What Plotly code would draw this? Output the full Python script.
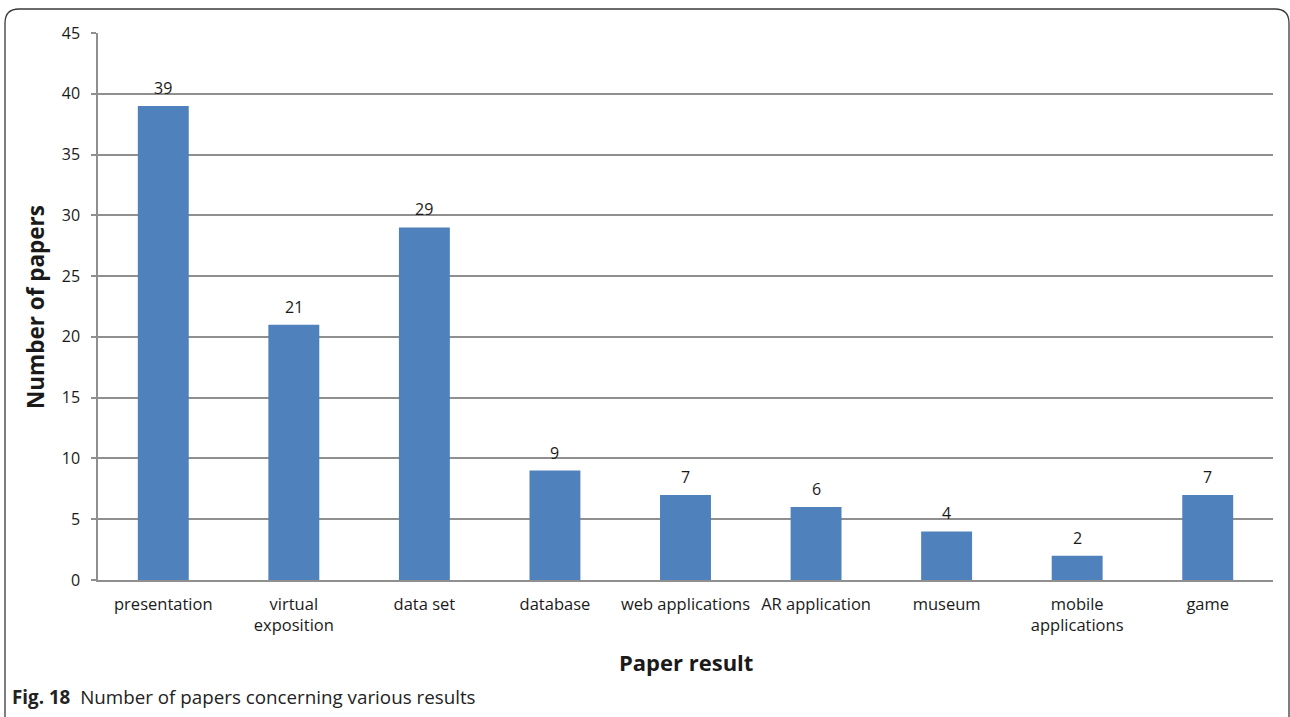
import plotly.graph_objects as go

# Paper results and how many papers report each
categories = ["presentation", "virtual exposition", "data set", "database",
              "web applications", "AR application", "museum",
              "mobile applications", "game"]
tick_labels = ["presentation", "virtual<br>exposition", "data set", "database",
               "web applications", "AR application", "museum",
               "mobile<br>applications", "game"]
paper_counts = [39, 21, 29, 9, 7, 6, 4, 2, 7]
y_ticks = [0, 5, 10, 15, 20, 25, 30, 35, 40, 45]

BAR = "#4f81bd"
GRID = "#8f8f8f"
TXT = "#1a1a1a"
FONT = "'Open Sans', sans-serif"

W, H = 1290, 717
L, R, T, B = 98, 17, 33, 137
pw, ph = W - L - R, H - T - B


def px(x):
    return (x - L) / pw


def py(y):
    return (H - B - y) / ph


fig = go.Figure()
fig.add_trace(go.Bar(
    x=categories, y=paper_counts, width=0.39,
    marker=dict(color=BAR, line=dict(width=0)),
    hoverinfo="x+y",
))

# value labels above each bar
for c, v in zip(categories, paper_counts):
    fig.add_annotation(x=c, y=v, text=str(v), showarrow=False,
                       yanchor="bottom", yshift=5,
                       font=dict(family=FONT, size=16, color=TXT))

# rounded frame around the figure
r = 14
x0, x1 = px(5), px(1289)
y_top, y_bot = py(9), py(730)
rx, ry = r / pw, r / ph
path = (f"M {x0},{y_bot} L {x0},{y_top - ry} Q {x0},{y_top} {x0 + rx},{y_top} "
        f"L {x1 - rx},{y_top} Q {x1},{y_top} {x1},{y_top - ry} L {x1},{y_bot}")
fig.add_shape(type="path", path=path, xref="paper", yref="paper",
              line=dict(color="#3a3a3a", width=1.3), layer="above")

# axis titles
fig.add_annotation(x=px(686), y=py(662), xref="paper", yref="paper",
                   xanchor="center", yanchor="middle",
                   text="<b>Paper result</b>", showarrow=False,
                   font=dict(family=FONT, size=22, color=TXT))
fig.add_annotation(x=px(35), y=py(307), xref="paper", yref="paper",
                   xanchor="center", yanchor="middle",
                   text="<b>Number of papers</b>", showarrow=False, textangle=-90,
                   font=dict(family=FONT, size=22.5, color=TXT))

# caption
fig.add_annotation(x=px(10), y=py(697), xref="paper", yref="paper",
                   xanchor="left", yanchor="middle",
                   text="<b>Fig. 18</b>  Number of papers concerning various results",
                   showarrow=False,
                   font=dict(family="'Open Sans', sans-serif", size=18.8, color="#222222"))

fig.update_layout(
    width=W, height=H,
    margin=dict(l=L, r=R, t=T, b=B, pad=0),
    paper_bgcolor="white", plot_bgcolor="white",
    showlegend=False,
    font=dict(family=FONT, size=16, color=TXT),
    bargap=0.61,
)
fig.update_xaxes(
    tickmode="array", tickvals=categories, ticktext=tick_labels,
    showline=True, linecolor=GRID, linewidth=1.5,
    showgrid=False, ticks="", ticklabelstandoff=8,
    tickfont=dict(family=FONT, size=16.5, color=TXT),
    range=[-0.5, len(categories) - 0.5],
)
fig.update_yaxes(
    range=[0, 45], tickvals=y_ticks,
    showgrid=True, gridcolor=GRID, gridwidth=1.5,
    showline=True, linecolor=GRID, linewidth=1.5,
    ticks="outside", ticklen=5, tickcolor=GRID, tickwidth=1.5,
    ticklabelstandoff=8,
    tickfont=dict(family=FONT, size=16, color=TXT),
    zeroline=False,
)

fig.write_html("out.html")
